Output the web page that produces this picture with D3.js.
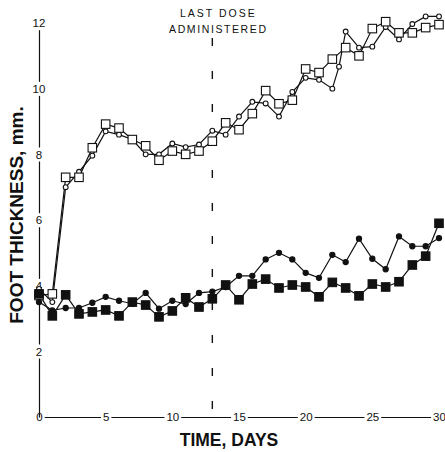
<!DOCTYPE html>
<html>
<head>
  <title>Foot thickness over time</title>
  <script src="https://d3js.org/d3.v7.min.js"></script>
  <style>
    body { margin: 0; background: #fff; }
    svg { display: block; }
    text { font-family: "Liberation Sans", Arial, sans-serif; fill: #111; }
  </style>
</head>
<body>
  <svg id="chart" width="445" height="452"></svg>

  <script>
    // Data (days, foot thickness in mm)
    const days = [0, 1, 2, 3, 4, 5, 6, 7, 8, 9, 10, 11, 12, 13, 14, 15,
                  16, 17, 18, 19, 20, 21, 22, 23, 24, 25, 26, 27, 28, 29, 30];

    const openCircleDays = [0, 1, 2, 3, 4, 5, 6, 7, 8, 9, 10, 11, 12, 13, 14, 15,
                            16, 17, 18, 19, 20, 21, 22, 22.5, 23, 24, 25, 26, 27, 28, 29, 30];
    const openCircles = [3.9, 3.5, 7.0, 7.47, 7.96, 8.7, 8.6, 8.45, 8.0, 8.0, 8.33, 8.22,
                         8.3, 8.72, 8.6, 9.15, 9.6, 9.55, 9.15, 9.9, 10.33, 10.27, 10.0,
                         10.67, 11.74, 11.25, 11.28, 11.88, 11.5, 11.97, 12.2, 12.2];

    const openSquares = [3.7, 3.75, 7.3, 7.3, 8.2, 8.92, 8.8, 8.45, 8.26, 7.82, 8.1, 8.0,
                         8.1, 8.4, 8.96, 8.75, 9.24, 9.94, 9.54, 9.65, 10.6, 10.49, 10.9,
                         11.25, 11.0, 11.83, 12.04, 11.7, 11.7, 11.86, 11.95];

    const filledCircles = [3.5, 3.25, 3.32, 3.32, 3.48, 3.66, 3.54, 3.45, 3.78, 3.3, 3.54,
                           3.44, 3.78, 3.82, 3.96, 4.3, 4.3, 4.8, 5.0, 4.8, 4.39, 4.24, 4.94,
                           4.72, 5.43, 4.82, 4.5, 5.5, 5.2, 5.2, 5.45];

    const filledSquares = [3.75, 3.08, 3.72, 3.14, 3.2, 3.26, 3.08, 3.5, 3.41, 3.05, 3.23,
                           3.63, 3.35, 3.6, 4.02, 3.57, 4.05, 4.2, 3.93, 4.02, 3.96, 3.66,
                           4.1, 3.93, 3.69, 4.05, 3.96, 4.12, 4.63, 4.9, 5.9];

    const xTicks = [0, 5, 10, 15, 20, 25, 30];
    const yTicks = [2, 4, 6, 8, 10, 12];
    const lastDoseDay = 13;

    const svg = d3.select('#chart');

    const x = d3.scaleLinear().domain([0, 30]).range([39, 439]);
    const y = d3.scaleLinear().domain([0, 12]).range([417, 23]);

    // Axes: labels sit on the axis line, which is broken around them
    function breakAxis(g) {
      g.select('.domain').attr('stroke', '#111').attr('stroke-width', 1.2);
      g.selectAll('.tick line').remove();
      g.selectAll('.tick text')
        .attr('font-size', 11.5)
        .attr('font-family', '"Liberation Sans", Arial, sans-serif')
        .attr('fill', '#111');
      g.selectAll('.tick').each(function () {
        const t = d3.select(this).select('text');
        const b = t.node().getBBox();
        d3.select(this).insert('rect', 'text')
          .attr('x', b.x - 2).attr('y', b.y - 1)
          .attr('width', b.width + 4).attr('height', b.height + 2)
          .attr('fill', '#fff');
      });
    }

    svg.append('g')
      .attr('transform', `translate(0,${y(0)})`)
      .call(d3.axisBottom(x).tickValues(xTicks).tickSize(0).tickSizeOuter(0))
      .call(g => g.selectAll('.tick text').attr('y', 0).attr('dy', '0.35em'))
      .call(breakAxis);

    svg.append('g')
      .attr('transform', `translate(${x(0)},0)`)
      .call(d3.axisLeft(y).tickValues(yTicks).tickSize(0).tickSizeOuter(0))
      .call(g => g.selectAll('.tick text').attr('x', 0).attr('text-anchor', 'middle'))
      .call(breakAxis);

    // Last dose marker
    svg.append('line')
      .attr('x1', x(lastDoseDay)).attr('x2', x(lastDoseDay))
      .attr('y1', 38).attr('y2', 412)
      .attr('stroke', '#111')
      .attr('stroke-width', 1.4)
      .attr('stroke-dasharray', '8,25');

    svg.append('text')
      .attr('x', x(lastDoseDay) + 6).attr('y', 17)
      .attr('text-anchor', 'middle')
      .attr('font-size', 10.5)
      .attr('letter-spacing', 2)
      .text('LAST DOSE');

    svg.append('text')
      .attr('x', x(lastDoseDay) + 6).attr('y', 33)
      .attr('text-anchor', 'middle')
      .attr('font-size', 10.5)
      .attr('letter-spacing', 1.6)
      .text('ADMINISTERED');

    // Axis titles
    svg.append('text')
      .attr('transform', 'translate(23,215) rotate(-90)')
      .attr('text-anchor', 'middle')
      .attr('font-size', 19)
      .attr('font-weight', 'bold')
      .text('FOOT THICKNESS, mm.');

    svg.append('text')
      .attr('x', 229).attr('y', 446)
      .attr('text-anchor', 'middle')
      .attr('font-size', 17.5)
      .attr('font-weight', 'bold')
      .text('TIME, DAYS');

    // Series
    const series = [
      { xs: openCircleDays, ys: openCircles, shape: 'circle', fill: '#fff', r: 2.4 },
      { xs: days, ys: openSquares, shape: 'square', fill: '#fff', s: 8.5 },
      { xs: days, ys: filledCircles, shape: 'circle', fill: '#111', r: 2.6 },
      { xs: days, ys: filledSquares, shape: 'square', fill: '#111', s: 8.5 }
    ];

    const line = d3.line().x(d => x(d[0])).y(d => y(d[1]));

    series.forEach(s => {
      const pts = s.xs.map((d, i) => [d, s.ys[i]]);
      svg.append('path')
        .datum(pts)
        .attr('d', line)
        .attr('fill', 'none')
        .attr('stroke', '#111')
        .attr('stroke-width', 1.2);
    });

    series.forEach(s => {
      const pts = s.xs.map((d, i) => [d, s.ys[i]]);
      if (s.shape === 'circle') {
        svg.append('g').selectAll('circle')
          .data(pts)
          .join('circle')
          .attr('cx', d => x(d[0]))
          .attr('cy', d => y(d[1]))
          .attr('r', s.r)
          .attr('fill', s.fill)
          .attr('stroke', '#111')
          .attr('stroke-width', 1.1);
      } else {
        svg.append('g').selectAll('rect')
          .data(pts)
          .join('rect')
          .attr('x', d => x(d[0]) - s.s / 2)
          .attr('y', d => y(d[1]) - s.s / 2)
          .attr('width', s.s)
          .attr('height', s.s)
          .attr('fill', s.fill)
          .attr('stroke', '#111')
          .attr('stroke-width', 1.1);
      }
    });
  </script>
</body>
</html>
